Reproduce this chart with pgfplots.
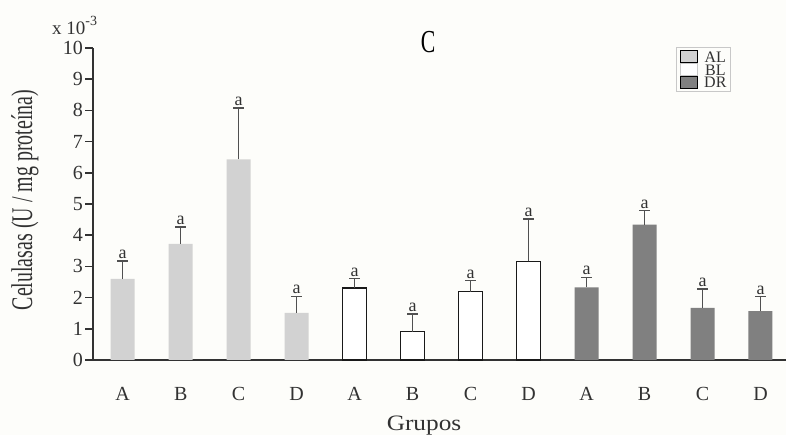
\documentclass[border=0pt]{standalone}
\usepackage{pgfplots}
\pgfplotsset{compat=1.18}
\usepackage{fontspec}
\setmainfont{Liberation Serif}

\definecolor{bgcol}{RGB}{253,253,250}
\definecolor{alfill}{RGB}{210,210,210}
\definecolor{drfill}{RGB}{128,128,128}
\definecolor{axiscol}{RGB}{50,50,50}
\definecolor{errcol}{RGB}{80,80,80}
\definecolor{legcol}{RGB}{200,200,200}

\begin{document}
\begin{tikzpicture}[x=1pt,y=1pt]
\fill[bgcol] (0,0) rectangle (786,435);
\path[use as bounding box] (0,0) rectangle (786,435);

\begin{axis}[
  at={(93pt,75pt)}, anchor=south west,
  scale only axis, width=693pt, height=312pt,
  xmin=-0.512, xmax=11.44, ymin=0, ymax=10,
  clip=false,
  axis lines=left,
  axis line style={-, line width=1.5pt, draw=axiscol},
  ytick={0,1,...,10},
  xtick={0,...,11},
  xticklabels={A,B,C,D,A,B,C,D,A,B,C,D},
  xtick style={draw=none},
  ytick style={line width=1.5pt, draw=axiscol},
  tick align=outside,
  major tick length=8pt,
  /pgf/number format/assume math mode=true,
  yticklabel style={font=\fontsize{20}{24}\selectfont, text=axiscol, inner sep=2pt},
  xticklabel style={font=\fontsize{20}{24}\selectfont, text=axiscol, yshift=-16pt},
  legend image code/.code={\draw[#1] (0pt,-0.5pt) rectangle (17pt,11.5pt);},
  legend style={at={(0.8413,1.0032)}, anchor=north west, draw=legcol, line width=0.8pt,
    fill=none, inner xsep=4pt, inner ysep=3pt, row sep=0pt,
    font=\fontsize{16}{16}\selectfont, text=axiscol,
    nodes={inner sep=0pt, text height=11.5pt, text depth=0.5pt, anchor=base},
    column sep=6pt},
  legend cell align=left,
]

% AL group
\addplot[ybar, bar width=24pt, bar shift=0pt, fill=alfill, draw=none, forget plot,
  error bars/.cd, y dir=plus, y explicit,
  error bar style={line width=1.5pt, draw=errcol},
  error mark options={rotate=90, mark size=5.5pt, line width=1.5pt, draw=errcol}]
  coordinates {(0,2.60) +- (0,0.57) (1,3.72) +- (0,0.55) (2,6.43) +- (0,1.64) (3,1.51) +- (0,0.53)};

% BL group
\addplot[ybar, bar width=24pt, bar shift=0pt, fill=white, draw=black!90, line width=1.5pt, forget plot,
  error bars/.cd, y dir=plus, y explicit,
  error bar style={line width=1.5pt, draw=errcol},
  error mark options={rotate=90, mark size=5.5pt, line width=1.5pt, draw=errcol}]
  coordinates {(4,2.30) +- (0,0.31) (5,0.91) +- (0,0.56) (6,2.19) +- (0,0.36) (7,3.16) +- (0,1.36)};

% DR group
\addplot[ybar, bar width=24pt, bar shift=0pt, fill=drfill, draw=none, forget plot,
  error bars/.cd, y dir=plus, y explicit,
  error bar style={line width=1.5pt, draw=errcol},
  error mark options={rotate=90, mark size=5.5pt, line width=1.5pt, draw=errcol}]
  coordinates {(8,2.33) +- (0,0.32) (9,4.34) +- (0,0.45) (10,1.67) +- (0,0.60) (11,1.57) +- (0,0.46)};

% significance letters above the error bars
\addplot[draw=none, mark=none, forget plot, nodes near coords={a},
  every node near coord/.append style={anchor=south, inner sep=2pt,
    font=\fontsize{18}{18}\selectfont, text=axiscol}]
  coordinates {(0,3.17) (1,4.27) (2,8.07) (3,2.04) (4,2.61) (5,1.47)
               (6,2.55) (7,4.52) (8,2.65) (9,4.79) (10,2.27) (11,2.03)};

\addlegendimage{fill=alfill, draw=none}
\addlegendentry{AL}
\addlegendimage{fill=white, draw=legcol, line width=0.8pt}
\addlegendentry{BL}
\addlegendimage{fill=drfill, draw=none}
\addlegendentry{DR}
\end{axis}

% axis annotations
\node[anchor=base west, text=axiscol, inner sep=0pt] at (52,400)
  {\fontsize{19}{19}\selectfont x 10\raisebox{9pt}{\fontsize{14}{14}\selectfont -3}};
\node[anchor=center, inner sep=0pt] at (428,393)
  {\scalebox{0.68}[1]{\fontsize{32}{32}\selectfont C}};
\node[rotate=90, anchor=base, inner sep=0pt, text=axiscol] at (32,235)
  {\scalebox{0.665}[1]{\fontsize{30}{30}\selectfont Celulasas (U / mg proteína)}};
\node[anchor=base, inner sep=0pt, text=axiscol] at (424,4)
  {\scalebox{1.15}[1]{\fontsize{22}{22}\selectfont Grupos}};
\end{tikzpicture}
\end{document}
